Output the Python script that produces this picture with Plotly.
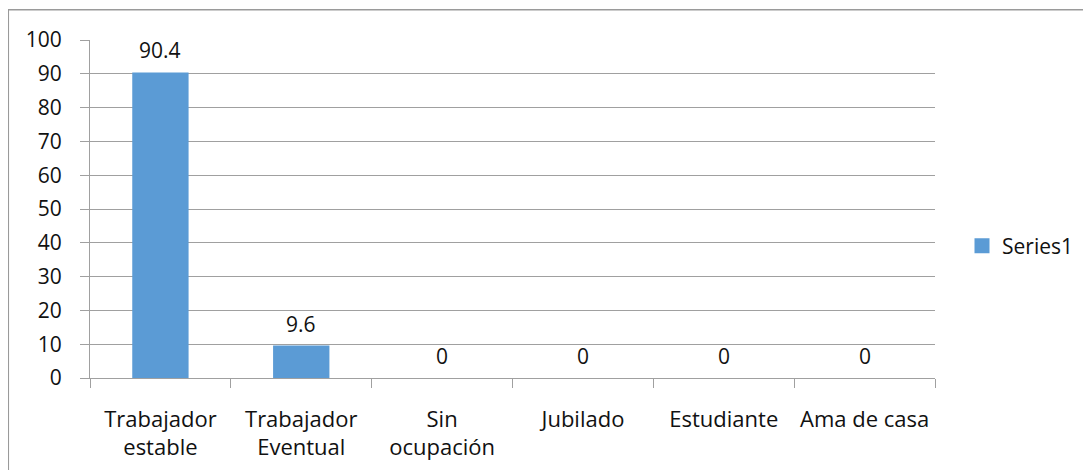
import plotly.graph_objects as go

categories = ["Trabajador<br>estable", "Trabajador<br>Eventual", "Sin<br>ocupación",
              "Jubilado", "Estudiante", "Ama de casa"]
values = [90.4, 9.6, 0, 0, 0, 0]
value_labels = ["90.4", "9.6", "0", "0", "0", "0"]
series_name = "Series1"
y_ticks = list(range(0, 101, 10))

BAR = "#5B9BD5"
GRID = "#A0A0A0"
FONT = "Open Sans"
TXT = "#111111"
FS = 21

# page offset (browser body margin)
OFF = 8
W, H = 1091 - OFF, 470 - OFF
# target plot area in screen pixels
SL, SR, ST, SB = 90, 935, 40, 378
L, R, T, B = SL - OFF, SR - OFF, ST - OFF, SB - OFF

def px_x(p):  # screen px -> paper
    return (p - OFF - L) / (R - L)
def px_y(p):
    return (B - (p - OFF)) / (B - T)

fig = go.Figure()
fig.add_trace(go.Bar(
    x=categories, y=values, name=series_name,
    marker=dict(color=BAR, line=dict(width=0)),
    width=0.4, showlegend=False,
))
# legend entry with a larger square swatch
fig.add_trace(go.Scatter(
    x=[None], y=[None], mode="markers", name=series_name,
    marker=dict(symbol="square", size=15, color=BAR, line=dict(width=0)),
    showlegend=True, hoverinfo="skip",
))

for c, v, t in zip(categories, values, value_labels):
    fig.add_annotation(x=c, y=v, text=t, showarrow=False, xref="x", yref="y",
                       yanchor="bottom", yshift=6,
                       font=dict(family=FONT, size=FS, color=TXT))

fig.add_shape(type="rect", xref="paper", yref="paper",
              x0=px_x(8.3), x1=px_x(1200), y0=px_y(9.8), y1=px_y(600),
              line=dict(color="#9a9a9a", width=1.5), fillcolor="rgba(0,0,0,0)", layer="below")

fig.update_layout(
    width=W, height=H,
    margin=dict(l=L, r=W - R, t=T, b=H - B, pad=0, autoexpand=False),
    paper_bgcolor="white", plot_bgcolor="white",
    font=dict(family=FONT, size=FS, color=TXT),
    bargap=0.6,
    legend=dict(x=px_x(962), y=px_y(246), xanchor="left", yanchor="middle",
                font=dict(family=FONT, size=FS, color=TXT),
                bgcolor="rgba(0,0,0,0)", itemwidth=30),
    xaxis=dict(showline=True, linecolor=GRID, linewidth=1.2, automargin=False,
               ticks="outside", tickson="boundaries", ticklen=9, tickcolor=GRID,
               showgrid=False, tickangle=0, ticklabelstandoff=21,
               tickfont=dict(family=FONT, size=22, color=TXT)),
    yaxis=dict(range=[0, 100], tickvals=y_ticks, showline=True, linecolor=GRID,
               linewidth=1.2, ticks="outside", ticklen=9, tickcolor=GRID, automargin=False,
               showgrid=True, gridcolor=GRID, gridwidth=1.2, zeroline=False,
               ticklabelstandoff=14),
)

fig.write_html("out.html")
